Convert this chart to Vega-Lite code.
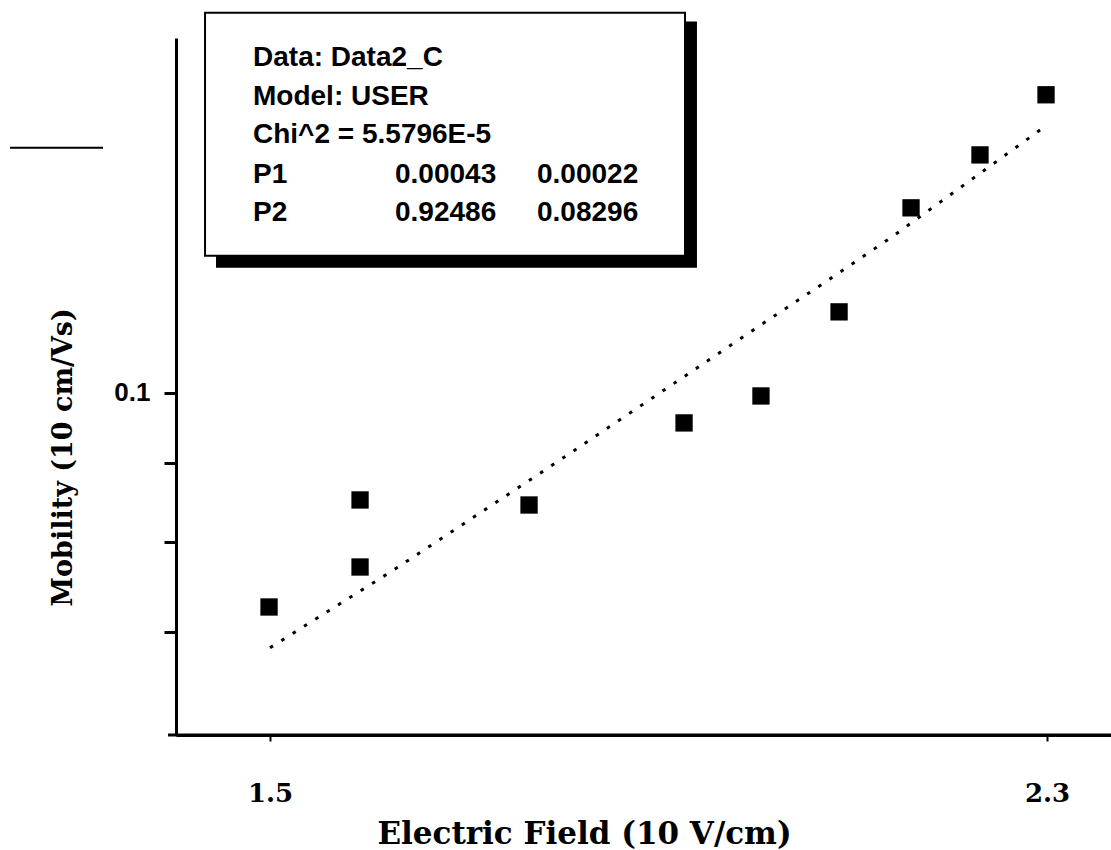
{
  "$schema": "https://vega.github.io/schema/vega-lite/v6.json",
  "width": 935,
  "height": 697,
  "autosize": {"type": "none"},
  "padding": {"left": 176, "top": 38, "right": 0, "bottom": 115},
  "background": "white",
  "config": {
    "view": {"stroke": null},
    "axis": {"grid": false, "domainColor": "black", "tickColor": "black", "labelColor": "black", "titleColor": "black"}
  },
  "datasets": {
    "measured": [
      {"E": 1.499, "mu": 0.07264},
      {"E": 1.5927, "mu": 0.08523},
      {"E": 1.5927, "mu": 0.07711},
      {"E": 1.7667, "mu": 0.08459},
      {"E": 1.9263, "mu": 0.09562},
      {"E": 2.0055, "mu": 0.09955},
      {"E": 2.0859, "mu": 0.11287},
      {"E": 2.16, "mu": 0.13184},
      {"E": 2.231, "mu": 0.14268},
      {"E": 2.299, "mu": 0.15609}
    ],
    "fit": [
      {"E": 1.5, "mu": 0.06835},
      {"E": 1.6287, "mu": 0.07687},
      {"E": 1.7862, "mu": 0.08939},
      {"E": 1.8861, "mu": 0.09852},
      {"E": 1.9994, "mu": 0.11005},
      {"E": 2.0704, "mu": 0.11786},
      {"E": 2.1404, "mu": 0.12625},
      {"E": 2.2959, "mu": 0.14856}
    ],
    "shadow": [
      {"E": 1.4444, "E2": 1.9396, "mu": 0.17411, "mu2": 0.12055}
    ],
    "box": [
      {"E": 1.4331, "E2": 1.9273, "mu": 0.17646, "mu2": 0.12275}
    ],
    "boxText": [
      {"E": 1.4825, "mu": 0.16498, "text": "Data: Data2_C"},
      {"E": 1.4825, "mu": 0.15564, "text": "Model: USER"},
      {"E": 1.4825, "mu": 0.14704, "text": "Chi^2 = 5.5796E-5"},
      {"E": 1.4825, "mu": 0.13848, "text": "P1"},
      {"E": 1.6287, "mu": 0.13848, "text": "0.00043"},
      {"E": 1.7749, "mu": 0.13848, "text": "0.00022"},
      {"E": 1.4825, "mu": 0.13087, "text": "P2"},
      {"E": 1.6287, "mu": 0.13087, "text": "0.92486"},
      {"E": 1.7749, "mu": 0.13087, "text": "0.08296"}
    ],
    "dash": [
      {"E": 1.2323, "E2": 1.3281, "mu": 0.1442}
    ],
    "baseline": [
      {"E": 1.395, "E2": 2.3659, "mu": 0.06}
    ]
  },
  "encoding": {
    "x": {
      "field": "E",
      "type": "quantitative",
      "scale": {"domain": [1.4032, 2.3659], "nice": false, "zero": false},
      "axis": {
        "title": "Electric Field (10 V/cm)",
        "values": [1.5, 2.3],
        "format": ".1f",
        "domainWidth": 3,
        "tickWidth": 2,
        "tickSize": 6,
        "labelFont": "DejaVu Serif",
        "labelFontWeight": "bold",
        "labelFontSize": 26,
        "labelPadding": 39,
        "titleFont": "DejaVu Serif",
        "titleFontWeight": "bold",
        "titleFontSize": 31,
        "titleAnchor": null,
        "titleAlign": "center",
        "titleBaseline": "alphabetic",
        "titleX": 408,
        "titleY": 108
      }
    },
    "y": {
      "field": "mu",
      "type": "quantitative",
      "scale": {"type": "log", "domain": [0.06, 0.1699], "nice": false},
      "axis": {
        "title": "Mobility (10 cm/Vs)",
        "values": [0.07, 0.08, 0.09, 0.1],
        "labelExpr": "datum.value > 0.095 ? '0.1' : ''",
        "domainWidth": 3,
        "tickWidth": 3,
        "tickSize": 12,
        "labelFont": "Liberation Sans",
        "labelFontWeight": "bold",
        "labelFontSize": 26,
        "labelPadding": 14,
        "titleFont": "DejaVu Serif",
        "titleFontWeight": "bold",
        "titleFontSize": 27,
        "titleAngle": -90,
        "titleAnchor": null,
        "titleAlign": "center",
        "titleBaseline": "middle",
        "titleX": -113,
        "titleY": 419
      }
    }
  },
  "layer": [
    {
      "data": {"name": "shadow"},
      "mark": {"type": "rect", "color": "black"},
      "encoding": {"x2": {"field": "E2"}, "y2": {"field": "mu2"}}
    },
    {
      "data": {"name": "box"},
      "mark": {"type": "rect", "fill": "white", "stroke": "black", "strokeWidth": 2},
      "encoding": {"x2": {"field": "E2"}, "y2": {"field": "mu2"}}
    },
    {
      "data": {"name": "boxText"},
      "mark": {"type": "text", "align": "left", "baseline": "middle", "font": "Liberation Sans", "fontWeight": "bold", "fontSize": 28, "color": "black"},
      "encoding": {"text": {"field": "text"}}
    },
    {
      "data": {"name": "dash"},
      "mark": {"type": "rule", "color": "black", "strokeWidth": 2},
      "encoding": {"x2": {"field": "E2"}}
    },
    {
      "data": {"name": "baseline"},
      "mark": {"type": "rule", "color": "black", "strokeWidth": 3},
      "encoding": {"x2": {"field": "E2"}}
    },
    {
      "data": {"name": "fit"},
      "mark": {"type": "line", "color": "black", "strokeWidth": 3, "strokeDash": [3.5, 9.9]},
      "encoding": {}
    },
    {
      "data": {"name": "measured"},
      "mark": {"type": "point", "shape": "square", "filled": true, "color": "black", "size": 300, "opacity": 1},
      "encoding": {}
    }
  ]
}
